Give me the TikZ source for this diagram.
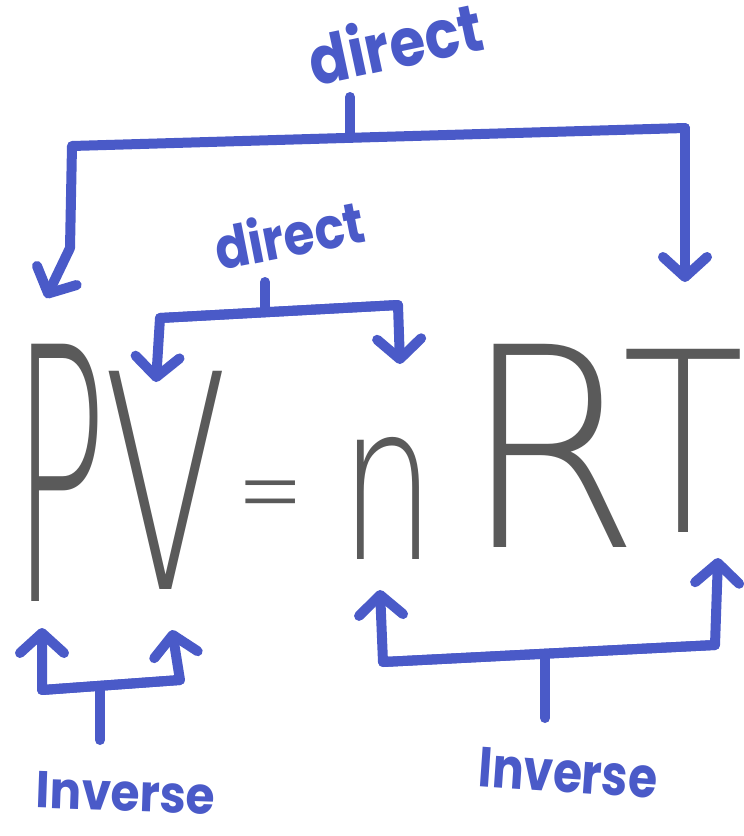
\documentclass[tikz,border=0pt]{standalone}
\usepackage{fontspec}
\usepackage{graphicx}
\usetikzlibrary{arrows.meta}
\newfontfamily\handfont{Poppins}
\newfontfamily\eqfont{DejaVu Sans ExtraLight}
\definecolor{pen}{HTML}{4A5AC8}
\definecolor{ink}{HTML}{5A5A5A}
\begin{document}
\begin{tikzpicture}[x=1pt,y=-1pt,
  blueline/.style={draw=pen,line width=10pt,line cap=round,line join=round},
  tipped/.style={-{Straight Barb[length=20pt,width=44pt,line cap=round,line join=round]}},
  hand/.style={text=pen,inner sep=0pt,font=\handfont\bfseries},
  letter/.style={text=ink,inner sep=0pt,anchor=south west,font=\eqfont}]
\useasboundingbox (0,0) rectangle (744,836);
\fill[white] (0,0) rectangle (744,836);

% equation letters
\node[letter] (P) at (12,602) {\resizebox{95pt}{257pt}{P}};
\node[letter] (V) at (103,590) {\resizebox{125pt}{218pt}{V}};
\node[text=ink,inner sep=0pt,anchor=base,font=\eqfont] (eq) at (271,528) {\scalebox{0.72}[1.05]{\fontsize{110}{110}\selectfont =}};
\node[letter] (n) at (340,560) {\resizebox{95pt}{122pt}{n}};
\node[letter] (R) at (462,548) {\resizebox{178pt}{203pt}{R}};
\node[letter] (T) at (622,533) {\resizebox{122pt}{183pt}{T}};

% labels
\node[hand,rotate=12] (d1) at (395,42) {\scalebox{1}[1.15]{\fontsize{58}{58}\selectfont direct}};
\node[hand,rotate=11] (d2) at (289,234) {\scalebox{1}[1.15]{\fontsize{50}{50}\selectfont direct}};
\node[hand,rotate=-2] (i1) at (126,793) {\scalebox{1}[1.1]{\fontsize{47}{47}\selectfont Inverse}};
\node[hand,rotate=-4] (i2) at (568,773) {\scalebox{1}[1.2]{\fontsize{47}{47}\selectfont Inverse}};

% top bracket
\coordinate (s1) at (350,97);
\coordinate (j1) at (350,134);
\coordinate (l1) at (72,146);
\coordinate (r1) at (685,128);
\coordinate (lb1) at (70,248);
\coordinate (tl1) at (46,298);
\coordinate (tr1) at (685,282);
\draw[blueline] (s1) -- (j1);
\draw[blueline,tipped] (r1) -- (l1) -- (lb1) -- (tl1);
\draw[blueline,tipped] (r1) -- (tr1);

% second bracket
\coordinate (s2) at (265,282);
\coordinate (j2) at (265,311);
\coordinate (l2) at (160,318);
\coordinate (r2) at (398,305);
\coordinate (tl2) at (156,382);
\coordinate (tr2) at (400,364);
\draw[blueline] (s2) -- (j2);
\draw[blueline,tipped] (r2) -- (l2) -- (tl2);
\draw[blueline,tipped] (l2) -- (r2) -- (tr2);

% bottom-left bracket
\coordinate (cl3) at (42,690);
\coordinate (cr3) at (180,680);
\coordinate (tl3) at (42,628);
\coordinate (tr3) at (172,630);
\coordinate (j3) at (100,688);
\coordinate (s3) at (100,740);
\draw[blueline] (j3) -- (s3);
\draw[blueline,tipped] (cr3) -- (cl3) -- (tl3);
\draw[blueline,tipped] (cl3) -- (cr3) -- (tr3);

% bottom-right bracket
\coordinate (cl4) at (383,662);
\coordinate (cr4) at (715,645);
\coordinate (tl4) at (380,590);
\coordinate (tr4) at (718,558);
\coordinate (j4) at (545,656);
\coordinate (s4) at (545,718);
\draw[blueline] (j4) -- (s4);
\draw[blueline,tipped] (cr4) -- (cl4) -- (tl4);
\draw[blueline,tipped] (cl4) -- (cr4) -- (tr4);
\end{tikzpicture}
\end{document}
